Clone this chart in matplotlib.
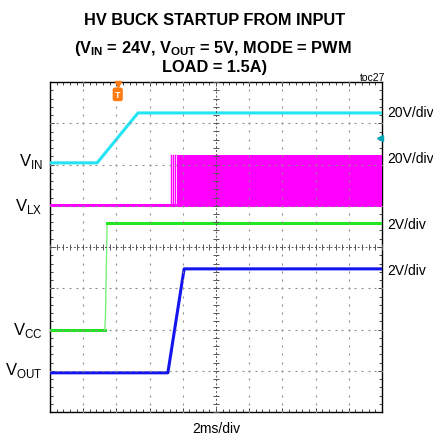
import numpy as np
import matplotlib
matplotlib.use("Agg")
import matplotlib.pyplot as plt
from matplotlib import font_manager
from matplotlib.ticker import MultipleLocator

# scope screen: 10 x 8 divisions, all values below are in divisions
# (x: 2ms/div, y: per-channel scale)
vin_t = [0.0, 1.42, 2.65, 10.0]
vin_v = [6.04, 6.04, 7.25, 7.25]

vlx_low = 5.01
vlx_high = 6.22
vlx_band_low = 4.97
vlx_pulses = [3.64, 3.70, 3.77]   # first isolated switching pulses
vlx_burst_start = 3.83            # continuous switching from here on

vcc_t = [0.0, 1.65, 1.67, 1.72, 10.0]
vcc_v = [1.99, 1.99, 2.30, 4.57, 4.57]

vout_t = [0.0, 3.55, 4.04, 10.0]
vout_v = [0.95, 0.95, 3.47, 3.47]

trigger_t = 2.04
vlx_marker_level = 6.64

left_labels = [r"V$_\mathregular{IN}$", r"V$_\mathregular{LX}$",
               r"V$_\mathregular{CC}$", r"V$_\mathregular{OUT}$"]
left_label_y = [5.99, 4.90, 1.89, 0.92]
right_labels = ["20V/div", "20V/div", "2V/div", "2V/div"]
right_label_y = [7.18, 6.06, 4.46, 3.35]

c_vin = "#22e4f2"
c_vlx = "#ff00ff"
c_vcc = "#22e622"
c_vout = "#1414ee"

# condensed bold font for the title if one is installed
names = {f.name for f in font_manager.fontManager.ttflist}
title_size = 13.5
if "Liberation Sans Narrow" in names:
    title_font = "Liberation Sans Narrow"
elif "DejaVu Sans Condensed" in names:
    title_font = "DejaVu Sans Condensed"
    title_size = 12.5
else:
    title_font = "Liberation Sans"
    title_size = 11.8
plt.rcParams["font.family"] = ["Liberation Sans", "DejaVu Sans"]

fig = plt.figure(figsize=(4.33, 4.39), dpi=100)
ax = fig.add_axes([50 / 433, 26 / 439, 332 / 433, 330 / 439])
ax.set_xlim(0, 10)
ax.set_ylim(0, 8)

# --- graticule ---
dot_y = np.arange(0, 8.001, 0.2)
dot_x = np.arange(0, 10.001, 0.2)
for gx in range(1, 10):
    if gx == 5:
        continue
    ax.plot(np.full(dot_y.size, gx), dot_y, ls="none", marker="|", ms=2,
            mew=0.8, color="#8c8c8c", zorder=5)
for gy in range(1, 8):
    if gy == 4:
        continue
    ax.plot(dot_x, np.full(dot_x.size, gy), ls="none", marker="_", ms=2,
            mew=0.8, color="#8c8c8c", zorder=5)
# center cross with ticks
ax.plot([5, 5], [0, 8], ls=(0, (2, 2)), lw=0.7, color="#555555", zorder=5)
ax.plot([0, 10], [4, 4], ls=(0, (2, 2)), lw=0.7, color="#555555", zorder=5)
ax.plot(np.full(dot_y.size, 5), dot_y, ls="none", marker="_", ms=4,
        mew=0.7, color="#555555", zorder=5)
ax.plot(dot_x, np.full(dot_x.size, 4), ls="none", marker="|", ms=4,
        mew=0.7, color="#555555", zorder=5)

# --- traces ---
ax.plot(vin_t, vin_v, color=c_vin, lw=2.2, zorder=3)

ax.plot([0, 10], [vlx_low, vlx_low], color=c_vlx, lw=2.2, zorder=3)
for p in vlx_pulses:
    ax.plot([p, p], [vlx_low, vlx_high], color=c_vlx, lw=1.0, zorder=3)
ax.fill_between([vlx_burst_start, 10], vlx_band_low, vlx_high,
                color=c_vlx, lw=0, zorder=3)

ax.plot(vcc_t[:2], vcc_v[:2], color=c_vcc, lw=2.2, zorder=3)
ax.plot(vcc_t[1:4], vcc_v[1:4], color="#7cf07c", lw=1.0, zorder=3)
ax.plot(vcc_t[3:], vcc_v[3:], color=c_vcc, lw=2.2, zorder=3)
ax.plot(vout_t, vout_v, color=c_vout, lw=2.2, zorder=3)

# trigger marker and channel reference arrow
ax.plot([trigger_t], [7.96], marker="v", ms=5, color="#ff7a10",
        clip_on=False, zorder=7)
ax.text(trigger_t, 7.70, "T", color="white", fontsize=6.5, fontweight="bold",
        ha="center", va="center", zorder=6,
        bbox=dict(boxstyle="round,pad=0.18", fc="#ff7a10", ec="#ff7a10"))
ax.plot([9.93], [vlx_marker_level], marker="<", ms=4.5, color="#00a6b4",
        clip_on=False, zorder=6)

# --- frame and ticks ---
for s in ax.spines.values():
    s.set_linewidth(1.0)
    s.set_color("black")
ax.set_xticks(range(11))
ax.set_yticks(range(9))
ax.xaxis.set_minor_locator(MultipleLocator(0.2))
ax.yaxis.set_minor_locator(MultipleLocator(0.2))
ax.tick_params(which="both", direction="in", top=True, right=True,
               labelbottom=False, labelleft=False, color="#444444", width=0.7)
ax.tick_params(which="major", length=3)
ax.tick_params(which="minor", length=2.5)

# --- labels ---
for lab, y in zip(left_labels, left_label_y):
    ax.text(-0.22, y, lab, ha="right", va="baseline", fontsize=12, clip_on=False)
for lab, y in zip(right_labels, right_label_y):
    ax.text(10.15, y, lab, ha="left", va="baseline", fontsize=10, clip_on=False)
ax.text(5.0, -0.48, "2ms/div", ha="center", va="baseline", fontsize=10,
        clip_on=False)

fig.text(385 / 433, 1 - 81 / 439, "toc27", ha="right", va="baseline", fontsize=7.5)

fig.text(215 / 433, 1 - 25 / 439, "HV BUCK STARTUP FROM INPUT", ha="center",
         va="baseline", fontsize=title_size, fontweight="bold", family=title_font)
fig.text(213 / 433, 1 - 53 / 439,
         r"(V$_\mathregular{IN}$ = 24V, V$_\mathregular{OUT}$ = 5V, MODE = PWM",
         ha="center", va="baseline", fontsize=title_size, fontweight="bold",
         family=title_font)
fig.text(215 / 433, 1 - 72 / 439, "LOAD = 1.5A)", ha="center", va="baseline",
         fontsize=title_size, fontweight="bold", family=title_font)

fig.savefig("out.png", dpi=100)
